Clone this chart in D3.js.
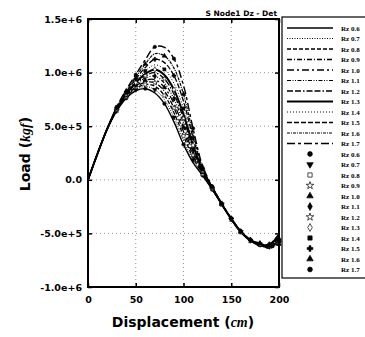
<!DOCTYPE html>
<meta charset="utf-8">
<html>
<head>
<title>S Node1 Dz - Det</title>
<style>
body { margin: 0; background: #fff; }
svg { display: block; }
text { font-family: "DejaVu Sans", sans-serif; font-weight: bold; fill: #000; }
.grid line { stroke: #999; stroke-width: 1; stroke-dasharray: 1,3; }
.frame { fill: none; stroke: #000; stroke-width: 2; }
.legend text { font-family: "Liberation Serif", serif; font-size: 7px; }
</style>
</head>
<body>
<svg class="chart" width="365" height="337"></svg>

<script src="https://cdn.jsdelivr.net/npm/d3@7"></script>
<script>

// displacement (cm)
const displacement = [0, 10, 20, 30, 40, 50, 60, 70, 80, 90, 100, 110, 120, 130, 140, 150, 160, 170, 180, 190, 200]

const rzLabels = ["Rz 0.6", "Rz 0.7", "Rz 0.8", "Rz 0.9", "Rz 1.0", "Rz 1.1", "Rz 1.2", "Rz 1.3", "Rz 1.4", "Rz 1.5", "Rz 1.6", "Rz 1.7"]

// load (x1000 kgf), one row per Rz
const loads = [
  [0, 245, 470, 640, 760, 830, 850, 810, 710, 540, 330, 160, 40, -90, -230, -370, -490, -570, -610, -630, -560],
  [0, 245, 470, 643, 766, 841, 870, 841, 748, 583, 370, 183, 47, -88, -229, -369, -489, -568, -615, -625, -575],
  [0, 245, 471, 646, 772, 852, 889, 873, 787, 626, 410, 207, 53, -86, -229, -368, -488, -567, -605, -640, -590],
  [0, 245, 471, 649, 778, 863, 909, 905, 826, 670, 451, 230, 60, -83, -228, -367, -487, -566, -620, -615, -545],
  [0, 245, 472, 652, 783, 874, 928, 935, 862, 711, 490, 253, 66, -81, -227, -366, -486, -565, -598, -632, -600],
  [0, 245, 472, 655, 789, 885, 949, 967, 902, 756, 531, 277, 73, -79, -226, -365, -485, -564, -612, -610, -530],
  [0, 245, 472, 658, 795, 896, 969, 999, 941, 800, 572, 301, 80, -77, -226, -364, -484, -563, -600, -628, -585],
  [0, 245, 473, 660, 801, 907, 988, 1029, 978, 841, 611, 323, 86, -75, -225, -363, -483, -562, -608, -605, -510],
  [0, 245, 473, 664, 809, 922, 1015, 1072, 1030, 900, 666, 355, 95, -72, -224, -362, -482, -561, -596, -622, -570],
  [0, 245, 474, 669, 818, 940, 1047, 1124, 1093, 971, 732, 394, 106, -68, -223, -361, -481, -560, -604, -600, -505],
  [0, 245, 474, 674, 828, 958, 1080, 1176, 1156, 1042, 798, 432, 117, -64, -221, -360, -480, -559, -590, -618, -550],
  [0, 245, 475, 680, 840, 980, 1120, 1240, 1235, 1130, 880, 480, 130, -60, -220, -358, -478, -558, -600, -610, -520]
]

const xTicks = [0, 50, 100, 150, 200]
const yTicks = [-1000000, -500000, 0, 500000, 1000000, 1500000]
const yTickLabels = ["-1.0e+6", "-5.0e+5", "0.0", "5.0e+5", "1.0e+6", "1.5e+6"]

// line styles per series
const dashes = ["", "1,1.5", "4,2", "5,2,1,2", "7,3,2,3", "4,1.5,1,1.5,1,1.5", "6,2,6,2,1.5,2", "", "1,2", "5,2", "3,1,1,1", "8,3,3,3"]
const widths = [1.4, 1, 1.3, 1.3, 1.3, 1.2, 1.3, 2, 1, 1.3, 1.2, 1.4]
// marker styles per series: [symbol, filled, rotate]
const markers = [
  [d3.symbolCircle, true, 0], [d3.symbolTriangle, true, 180], [d3.symbolSquare, false, 0],
  [d3.symbolStar, false, 0], [d3.symbolTriangle, true, 0], [d3.symbolDiamond, true, 0],
  [d3.symbolStar, false, 0], [d3.symbolDiamond, false, 0], [d3.symbolSquare, true, 0],
  [d3.symbolCross, true, 0], [d3.symbolTriangle, true, 0], [d3.symbolCircle, true, 0]
]

const mLeft = 88, mRight = 279, mTop = 19, mBottom = 287

const svg = d3.select("svg.chart")

var x = d3.scaleLinear().domain([0, 200]).range([mLeft, mRight])
var y = d3.scaleLinear().domain([-1000000, 1500000]).range([mBottom, mTop])

// grid
var grid = svg.append("g").attr("class", "grid")
grid.selectAll("line.v")
  .data(xTicks.slice(1, -1))
  .enter().append("line")
  .attr("x1", (d) => x(d)).attr("x2", (d) => x(d))
  .attr("y1", mTop).attr("y2", mBottom)
grid.selectAll("line.h")
  .data(yTicks.slice(1, -1))
  .enter().append("line")
  .attr("x1", mLeft).attr("x2", mRight)
  .attr("y1", (d) => y(d)).attr("y2", (d) => y(d))

// curves
var line = d3.line()
  .x((d) => x(d[0]))
  .y((d) => y(d[1] * 1000))
  .curve(d3.curveCatmullRom.alpha(0.5))

var series = loads.map((row, k) => row.map((v, i) => [displacement[i], v]))

svg.append("g").selectAll("path")
  .data(series)
  .enter().append("path")
  .attr("d", line)
  .attr("fill", "none")
  .attr("stroke", "#000")
  .attr("stroke-width", (d, k) => widths[k])
  .attr("stroke-dasharray", (d, k) => dashes[k])

// markers on the curves
var mk = svg.append("g")
series.forEach((pts, k) => {
  var m = markers[k]
  mk.selectAll("path.m" + k)
    .data(pts.filter((p, i) => i > 2 && i % 2 === k % 2))
    .enter().append("path")
    .attr("class", "m" + k)
    .attr("d", d3.symbol().type(m[0]).size(9))
    .attr("transform", (p) => "translate(" + x(p[0]) + "," + y(p[1] * 1000) + ") rotate(" + m[2] + ")")
    .attr("fill", m[1] ? "#000" : "#fff")
    .attr("stroke", "#000")
    .attr("stroke-width", 0.6)
})

// axes (ticks pointing inward on all four sides)
svg.append("g")
  .attr("transform", "translate(" + mLeft + ",0)")
  .call(d3.axisLeft(y).tickValues(yTicks).tickSize(-4).tickPadding(6)
    .tickFormat((d, i) => yTickLabels[i]))
  .call((g) => g.select(".domain").remove())
  .call((g) => g.selectAll("text").attr("font-size", 9.5).attr("font-family", null))
svg.append("g")
  .attr("transform", "translate(" + mRight + ",0)")
  .call(d3.axisRight(y).tickValues(yTicks).tickSize(-4).tickFormat(""))
  .call((g) => g.select(".domain").remove())
svg.append("g")
  .attr("transform", "translate(0," + mBottom + ")")
  .call(d3.axisBottom(x).tickValues(xTicks).tickSize(-4).tickPadding(9))
  .call((g) => g.select(".domain").remove())
  .call((g) => g.selectAll("text").attr("font-size", 9.5).attr("font-family", null))
svg.append("g")
  .attr("transform", "translate(0," + mTop + ")")
  .call(d3.axisTop(x).tickValues(xTicks).tickSize(-4).tickFormat(""))
  .call((g) => g.select(".domain").remove())
svg.selectAll(".tick line").attr("stroke-width", 1.5)

svg.append("rect").attr("class", "frame")
  .attr("x", mLeft).attr("y", mTop)
  .attr("width", mRight - mLeft).attr("height", mBottom - mTop)

// titles
svg.append("text")
  .attr("x", 277).attr("y", 16)
  .attr("text-anchor", "end")
  .attr("font-size", 7.5)
  .text("S Node1 Dz - Det")

var xt = svg.append("text")
  .attr("x", 183).attr("y", 327)
  .attr("text-anchor", "middle")
  .attr("font-size", 14)
xt.append("tspan").text("Displacement (")
xt.append("tspan").attr("font-family", "Liberation Serif, serif").attr("font-style", "italic").text("cm")
xt.append("tspan").text(")")

var yt = svg.append("text")
  .attr("transform", "translate(30,154) rotate(-90)")
  .attr("text-anchor", "middle")
  .attr("font-size", 14)
yt.append("tspan").text("Load (")
yt.append("tspan").attr("font-family", "Liberation Serif, serif").attr("font-style", "italic").text("kgf")
yt.append("tspan").text(")")

// legend: 12 line entries then 12 marker entries
var legend = svg.append("g").attr("class", "legend")
legend.append("rect")
  .attr("x", 282).attr("y", 17)
  .attr("width", 100).attr("height", 261)
  .attr("fill", "#fff").attr("stroke", "#000").attr("stroke-width", 1.2)

var rowY = (i) => 28 + i * 10.5

legend.selectAll("line")
  .data(rzLabels)
  .enter().append("line")
  .attr("x1", 287).attr("x2", 333)
  .attr("y1", (d, i) => rowY(i)).attr("y2", (d, i) => rowY(i))
  .attr("stroke", "#000")
  .attr("stroke-width", (d, i) => widths[i])
  .attr("stroke-dasharray", (d, i) => dashes[i])

legend.selectAll("path")
  .data(rzLabels)
  .enter().append("path")
  .attr("d", (d, i) => d3.symbol().type(markers[i][0]).size(18)())
  .attr("transform", (d, i) => "translate(310," + rowY(i + 12) + ") rotate(" + markers[i][2] + ")")
  .attr("fill", (d, i) => markers[i][1] ? "#000" : "#fff")
  .attr("stroke", "#000")
  .attr("stroke-width", 0.7)

legend.selectAll("text")
  .data(rzLabels.concat(rzLabels))
  .enter().append("text")
  .attr("x", 341)
  .attr("y", (d, i) => rowY(i) + 2.5)
  .text((d) => d)
</script>
</body>
</html>
